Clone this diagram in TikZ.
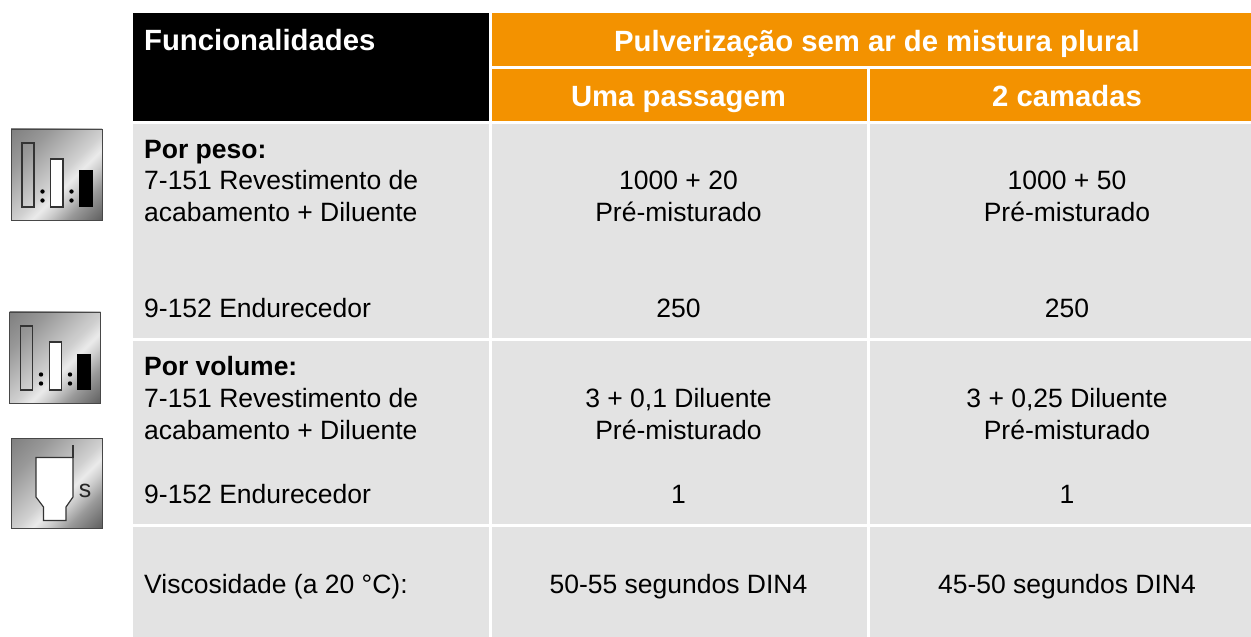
\documentclass[tikz,border=0pt]{standalone}
\usepackage{fontspec}
\setmainfont{Liberation Sans}
\usetikzlibrary{shadings}
\definecolor{hdrorange}{RGB}{243,146,0}
\definecolor{cellgray}{RGB}{227,227,227}
\pgfdeclareverticalshading{metalsh}{100bp}{
 color(0bp)=(black!50);color(15bp)=(black!50);color(30bp)=(black!40);color(42bp)=(black!28);color(52bp)=(black!18);color(58bp)=(black!8);color(64bp)=(black!20);color(72bp)=(black!40);color(85bp)=(black!62);color(100bp)=(black!62)}
\tikzset{
 x=1bp,y=-1bp,
 hdrblack/.style={fill=black,draw=none},
 hdrorg/.style={fill=hdrorange,draw=none},
 cell/.style={fill=cellgray,draw=none},
 hdrtxt/.style={font=\fontsize{29.4}{34}\selectfont\bfseries,inner sep=0pt},
 hdrwhite/.style={hdrtxt,text=white,anchor=base},
 lbl/.style={font=\fontsize{26.6}{30}\selectfont,inner sep=0pt,anchor=base west},
 lblb/.style={font=\fontsize{26.6}{30}\selectfont\bfseries,inner sep=0pt,anchor=base west},
 ctr/.style={font=\fontsize{26.6}{30}\selectfont,inner sep=0pt,anchor=base},
 icon/.style={shading=metalsh,shading angle=225,draw=black!72,line width=0.9pt},
 barline/.style={draw=black!80,line width=1.2pt},
 dotm/.style={fill=black,draw=none}
}
\begin{document}
\begin{tikzpicture}
\useasboundingbox (0,0) rectangle (1251,637);
% header
\fill[hdrblack] (133,13) rectangle (489,121);
\fill[hdrorg] (492,13) rectangle (1251,66);
\fill[hdrorg] (492,69) rectangle (867,121);
\fill[hdrorg] (870,69) rectangle (1251,121);
% body
\foreach \a/\b in {124/338,341/524,527/637}{
 \fill[cell] (133,\a) rectangle (489,\b);
 \fill[cell] (492,\a) rectangle (867,\b);
 \fill[cell] (870,\a) rectangle (1251,\b);
}
% header text
\node[hdrtxt,text=white,anchor=base west] (t0) at (144,51) {Funcionalidades};
\node[hdrwhite] (t1) at (877,52) {Pulverização sem ar de mistura plural};
\node[hdrwhite] (t2) at (678.5,107) {Uma passagem};
\node[hdrwhite] (t3) at (1067,107) {2 camadas};
% col 1
\node[lblb] (a1) at (144,158.5) {Por peso:};
\node[lbl] (a2) at (144,190) {7-151 Revestimento de};
\node[lbl] (a3) at (144,222) {acabamento + Diluente};
\node[lbl] (a4) at (144,317.5) {9-152 Endurecedor};
\node[lblb] (a5) at (144,375.5) {Por volume:};
\node[lbl] (a6) at (144,407) {7-151 Revestimento de};
\node[lbl] (a7) at (144,439) {acabamento + Diluente};
\node[lbl] (a8) at (144,503) {9-152 Endurecedor};
\node[lbl] (a9) at (144,593) {Viscosidade (a 20 °C):};
% col 2
\node[ctr] (b1) at (678.5,190) {1000 + 20};
\node[ctr] (b2) at (678.5,222) {Pré-misturado};
\node[ctr] (b3) at (678.5,317.5) {250};
\node[ctr] (b4) at (678.5,407) {3 + 0,1 Diluente};
\node[ctr] (b5) at (678.5,439) {Pré-misturado};
\node[ctr] (b6) at (678.5,503) {1};
\node[ctr] (b7) at (678.5,593) {50-55 segundos DIN4};
% col 3
\node[ctr] (c1) at (1067,190) {1000 + 50};
\node[ctr] (c2) at (1067,222) {Pré-misturado};
\node[ctr] (c3) at (1067,317.5) {250};
\node[ctr] (c4) at (1067,407) {3 + 0,25 Diluente};
\node[ctr] (c5) at (1067,439) {Pré-misturado};
\node[ctr] (c6) at (1067,503) {1};
\node[ctr] (c7) at (1067,593) {45-50 segundos DIN4};
% icon 1 and 2
\foreach \dx/\dy in {11/129,9.5/312}{
 \begin{scope}[shift={(\dx,\dy)}]
  \path[icon] (0,0) rectangle (91,91);
  \draw[barline] (11,14) rectangle (23,78);
  \draw[barline,fill=white] (39.7,30) rectangle (52,78);
  \fill[black] (67.5,41.5) rectangle (81.5,78);
  \foreach \px in {31.5,60.5}\foreach \py in {62.5,71.5}
    \fill[dotm] (\px,\py) circle (2.2);
 \end{scope}
}
% icon 3
\path[icon] (11,438.5) rectangle (102,528);
\draw[barline,fill=white] (36,457.5) -- (73,457.5) -- (73,497) -- (66,507) -- (66,520.5) -- (43.5,520.5) -- (43.5,507) -- (36,497) -- cycle;
\draw[barline] (73,457.5) -- (73,445);
\node[inner sep=0pt,anchor=base,font=\fontsize{25}{28}\selectfont,text=black!85] (s) at (85,497) {s};
\end{tikzpicture}
\end{document}
